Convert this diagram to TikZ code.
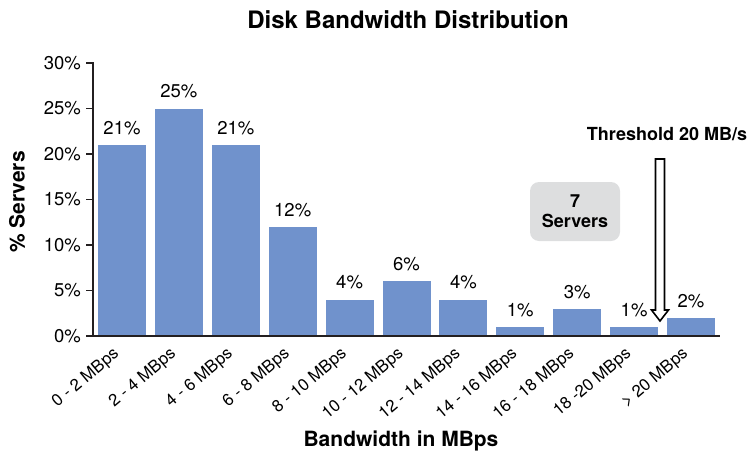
\documentclass[tikz,border=0pt]{standalone}
\usepackage{fontspec}
\setmainfont{TeX Gyre Heros}
\definecolor{barblue}{RGB}{112,146,204}
\definecolor{axisdark}{RGB}{35,31,32}
\definecolor{boxgray}{RGB}{221,222,223}
\begin{document}
\begin{tikzpicture}[x=1pt,y=-1pt,
  bar/.style={fill=barblue, draw=none, minimum width=48pt, inner sep=0pt, outer sep=0pt, anchor=south west},
  pct/.style={font=\fontsize{18.5}{20}\selectfont, inner sep=0pt},
  ticklab/.style={font=\fontsize{18.5}{20}\selectfont, anchor=east, inner sep=0pt},
  catlab/.style={font=\fontsize{16.8}{19}\selectfont, anchor=east, rotate=40, inner sep=0pt},
  axisline/.style={draw=axisdark, line width=2.6pt},
  tickline/.style={draw=axisdark, line width=1.6pt},
  heading/.style={font=\fontsize{24}{28}\selectfont\bfseries, inner sep=0pt},
  axtitle/.style={font=\fontsize{21}{24}\selectfont\bfseries, inner sep=0pt},
  note/.style={font=\fontsize{18}{21}\selectfont\bfseries, inner sep=0pt, align=center}]
\useasboundingbox (0,0) rectangle (750,453);

% title and axis titles
\node[heading] (title) at (408,20) {Disk Bandwidth Distribution};
\node[axtitle, rotate=90] (ytitle) at (17,202) {\% Servers};
\node[axtitle] (xtitle) at (401,441) {Bandwidth in MBps};

% bars, value labels and category labels
\foreach \i/\p/\c in {0/21/0 - 2 MBps, 1/25/2 - 4 MBps, 2/21/4 - 6 MBps, 3/12/6 - 8 MBps,
    4/4/8 - 10 MBps, 5/6/10 - 12 MBps, 6/4/12 - 14 MBps, 7/1/14 - 16 MBps,
    8/3/16 - 18 MBps, 9/1/18 -20 MBps, 10/2/> 20 MBps} {
  \pgfmathsetmacro{\bx}{98+56.9*\i}
  \pgfmathsetmacro{\bh}{\p*9.1}
  \pgfmathsetmacro{\cx}{\bx+24}
  \pgfmathsetmacro{\ly}{336-\bh-17}
  \node[bar, minimum height=\bh pt] (bar\i) at (\bx,336) {};
  \node[pct] (val\i) at (\cx,\ly) {\p\%};
  \node[catlab] (cat\i) at (\cx-5,352) {\c};
}

% value axis ticks and labels
\foreach \v in {0,5,...,30} {
  \pgfmathsetmacro{\ty}{336-\v*9.1}
  \coordinate (t\v) at (93,\ty);
  \draw[tickline] (t\v) -- ++(-7,0);
  \node[ticklab] (yl\v) at (81,\ty) {\v\%};
}

% axes
\coordinate (origin) at (93,336);
\draw[axisline] (93,62) -- (origin) -- (720,336);

% annotation box
\node[fill=boxgray, rounded corners=9pt, minimum width=90pt, minimum height=59pt, inner sep=0pt] (box) at (575,211.5) {};
\node[note] (boxtext) at (box.center) {7\\[-1pt]Servers};

% threshold label and hollow arrow
\node[note] (thr) at (667,134) {Threshold 20 MB/s};
\coordinate (tip) at (660,321);
\draw[draw=black, fill=white, line width=1.6pt, line join=miter]
  (655.5,159) -- (664.5,159) -- (664.5,310) -- (668.5,310) -- (tip)
  -- (651.5,310) -- (655.5,310) -- cycle;
\end{tikzpicture}
\end{document}
